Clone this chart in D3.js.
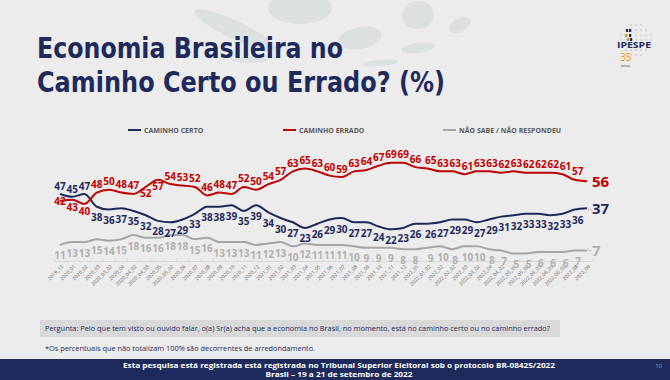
<!DOCTYPE html>
<html><head><meta charset="utf-8">
<script src="https://cdn.jsdelivr.net/npm/d3@7"></script>
<style>
html,body{margin:0;padding:0;background:#ececec;}
svg{display:block;}
</style></head>
<body>
<svg id="c" width="670" height="380"></svg>
<script>
const categories = ["2019_12","2020_01","2020_02","2020_03","2020_03_02","2020_04","2020_04_02","2020_04_03","2020_05","2020_05_02","2020_06","2020_07","2020_08","2020_09","2020_10","2020_11","2020_12","2021_01","2021_02","2021_03","2021_04","2021_05","2021_06","2021_07","2021_08","2021_09","2021_10","2021_11","2021_12","2022_01","2022_01_02","2022_02","2022_02_02","2022_03","2022_03_02","2022_04","2022_04_02","2022_05_01","2022_05_02","2022_05_03","2022_06_01","2022_06_02","2022_08","2022_09"];
const caminhoCerto = [47,45,47,38,36,37,35,32,28,27,29,33,38,38,39,35,39,34,30,27,23,26,29,30,27,27,24,22,23,26,26,27,29,29,27,29,31,32,33,33,32,33,36,37];
const caminhoErrado = [42,43,40,48,50,48,47,52,57,54,53,52,46,48,47,52,50,54,57,63,65,63,60,59,63,64,67,69,69,66,65,63,63,61,63,63,62,63,62,62,62,61,57,56];
const naoSabe = [11,13,13,15,14,15,18,16,16,18,18,15,16,13,13,13,11,12,13,10,12,11,11,11,10,9,9,9,8,8,9,10,8,10,10,8,7,5,5,6,6,6,7,7];
const seriesNames = ["CAMINHO CERTO","CAMINHO ERRADO","NÃO SABE / NÃO RESPONDEU"];

const svg = d3.select("#c");
const NAVY = "#1f2a5c", RED = "#c00000", GRAY = "#a6a6a6";
const FONT = "'Open Sans', sans-serif";

// background decorations
const deco = svg.append("g").attr("fill","#dde0e1");
[[300,8,32,16,0],[360,38,22,11,-10],[235,30,45,9,25],[418,15,16,14,0],[460,25,12,7,-30],[418,48,17,5,-8],[380,63,18,3,-5],[250,60,18,3,0]].forEach(d=>{
  deco.append("ellipse").attr("cx",d[0]).attr("cy",d[1]).attr("rx",d[2]).attr("ry",d[3])
    .attr("transform",`rotate(${d[4]},${d[0]},${d[1]})`);
});

// title
const title = svg.append("g").attr("fill",NAVY).attr("font-family","'Liberation Sans Narrow','DejaVu Sans Condensed',sans-serif").attr("font-weight","bold").attr("font-size",28);
title.append("text").attr("x",37).attr("y",58).attr("textLength",306).attr("lengthAdjust","spacingAndGlyphs").text("Economia Brasileira no");
title.append("text").attr("x",37).attr("y",92).attr("textLength",408).attr("lengthAdjust","spacingAndGlyphs").text("Caminho Certo ou Errado? (%)");

// logo
const logo = svg.append("g");
for(let i=0;i<7;i++){for(let j=0;j<7;j++){const dx=i-3,dy=j-3; if(dx*dx+dy*dy<=10){logo.append("circle").attr("cx",636+dx*5).attr("cy",40+dy*5).attr("r",1.3).attr("fill","#d6d9db");}}}
[[626,29,"#1f2a5c"],[629,29,"#1f2a5c"],[625,34,"#f39200"],[629,34,"#1f2a5c"],[627,38,"#f39200"],[630,38,"#1f2a5c"]].forEach(d=>logo.append("rect").attr("x",d[0]).attr("y",d[1]).attr("width",2.2).attr("height",3).attr("fill",d[2]));
logo.append("text").attr("x",617).attr("y",48).attr("font-family",FONT).attr("font-weight","bold").attr("font-size",9.5).attr("fill",NAVY).attr("textLength",34).attr("lengthAdjust","spacingAndGlyphs").text("IPESPE");
logo.append("text").attr("x",620).attr("y",61).attr("font-family",FONT).attr("font-size",10).attr("fill","#f39200").text("35");
logo.append("text").attr("x",621).attr("y",67).attr("font-family",FONT).attr("font-size",4).attr("fill",NAVY).text("anos");

// scales
const x = d3.scalePoint().domain(categories).range([60,587]);
const y = d3.scaleLinear().domain([0,100]).range([260.5,119]);

// x axis
const xAxis = d3.axisBottom(x).tickSize(0).tickPadding(0);
const ax = svg.append("g").attr("transform","translate(0,261)").call(xAxis);
ax.select(".domain").attr("stroke","#d9d9d9").attr("d","M54,0.5H593");
ax.selectAll(".tick text").attr("font-family",FONT).attr("font-size",5).attr("fill","#595959")
  .attr("text-anchor","end").attr("dy",0).attr("transform","translate(3,6) rotate(-45)");
// category separators
const step = x.step();
svg.append("g").selectAll("line").data(categories.concat([null])).join("line")
  .attr("x1",(d,i)=>60 - step/2 + i*step).attr("x2",(d,i)=>60 - step/2 + i*step)
  .attr("y1",258).attr("y2",261).attr("stroke","#d9d9d9").attr("stroke-width",0.8);

// legend
const leg = svg.append("g").attr("font-family",FONT).attr("font-weight","bold").attr("font-size",7).attr("fill","#595959");
[[128,NAVY],[283,RED],[443,GRAY]].forEach((d,i)=>{
  leg.append("line").attr("x1",d[0]).attr("x2",d[0]+13).attr("y1",130).attr("y2",130).attr("stroke",d[1]).attr("stroke-width",2);
  leg.append("text").attr("x",d[0]+16).attr("y",132.5).text(seriesNames[i]);
});

// lines
const series = [
  {vals:naoSabe, color:GRAY},
  {vals:caminhoCerto, color:NAVY},
  {vals:caminhoErrado, color:RED}
];
const line = d3.line().x((d,i)=>x(categories[i])).y(d=>y(d)).curve(d3.curveMonotoneX);
series.forEach(s=>{
  svg.append("path").datum(s.vals).attr("d",line).attr("fill","none").attr("stroke",s.color).attr("stroke-width",2).attr("stroke-linejoin","round");
});

// leader marks near end labels
svg.append("path").attr("d",`M${x(categories[43])+1},${y(37)-1}v3h4`).attr("fill","none").attr("stroke","#bfbfbf").attr("stroke-width",0.8);
svg.append("path").attr("d",`M${x(categories[43])+1},${y(7)-3}v3h4`).attr("fill","none").attr("stroke","#bfbfbf").attr("stroke-width",0.8);

// data labels
const lg = svg.append("g").attr("font-family",FONT).attr("font-weight","bold").attr("font-size",10).attr("text-anchor","middle");
function labelOffset(series, i){
  if(series===caminhoErrado){
    if(i===0) return 0;
    if(i===1||i===2) return 8;
    if(i===7||i===8) return 7;
    return -8;
  }
  if(series===caminhoCerto){
    if(i<=2) return -7;
    return 11;
  }
  return 11;
}
const last = categories.length-1;
[[caminhoErrado,RED],[caminhoCerto,NAVY],[naoSabe,"#b0b0b0"]].forEach(([vals,col])=>{
  lg.selectAll(null).data(vals.slice(0,last)).join("text")
    .attr("x",(d,i)=>x(categories[i]) + (i>=30?3:0))
    .attr("y",(d,i)=>y(d)+labelOffset(vals,i)+3.5)
    .attr("fill",col).text(d=>d);
  lg.append("text").attr("x",x(categories[last])+5).attr("y",y(vals[last])+5.5)
    .attr("text-anchor","start").attr("font-size",15).attr("fill",col).text(vals[last]);
});

// question box
svg.append("rect").attr("x",40).attr("y",320).attr("width",520).attr("height",17).attr("fill","#d9d9d9");
svg.append("text").attr("x",45).attr("y",331).attr("font-family",FONT).attr("font-size",6.6).attr("fill","#1f2a5c")
  .attr("textLength",505).attr("lengthAdjust","spacingAndGlyphs")
  .text("Pergunta: Pelo que tem visto ou ouvido falar, o(a) Sr(a) acha que a economia no Brasil, no momento, está no caminho certo ou no caminho errado?");
svg.append("text").attr("x",45).attr("y",351).attr("font-family",FONT).attr("font-size",6.6).attr("fill","#1f2a5c")
  .attr("textLength",270).attr("lengthAdjust","spacingAndGlyphs")
  .text("*Os percentuais que não totalizam 100% são decorrentes de arredondamento.");

// footer
svg.append("rect").attr("x",0).attr("y",359).attr("width",670).attr("height",21).attr("fill","#1f2a5c");
const ft = svg.append("g").attr("font-family",FONT).attr("font-weight","bold").attr("font-size",7.5).attr("fill","#ffffff").attr("text-anchor","middle");
ft.append("text").attr("x",339).attr("y",368).attr("textLength",432).attr("lengthAdjust","spacingAndGlyphs").text("Esta pesquisa está registrada está registrada no Tribunal Superior Eleitoral sob o protocolo BR-08425/2022");
ft.append("text").attr("x",339).attr("y",377).attr("textLength",147).attr("lengthAdjust","spacingAndGlyphs").text("Brasil – 19 a 21 de setembro de 2022");
svg.append("text").attr("x",662).attr("y",368).attr("font-family",FONT).attr("font-size",6).attr("fill","#9aa0b5").attr("text-anchor","end").text("10");
</script>
</body></html>
